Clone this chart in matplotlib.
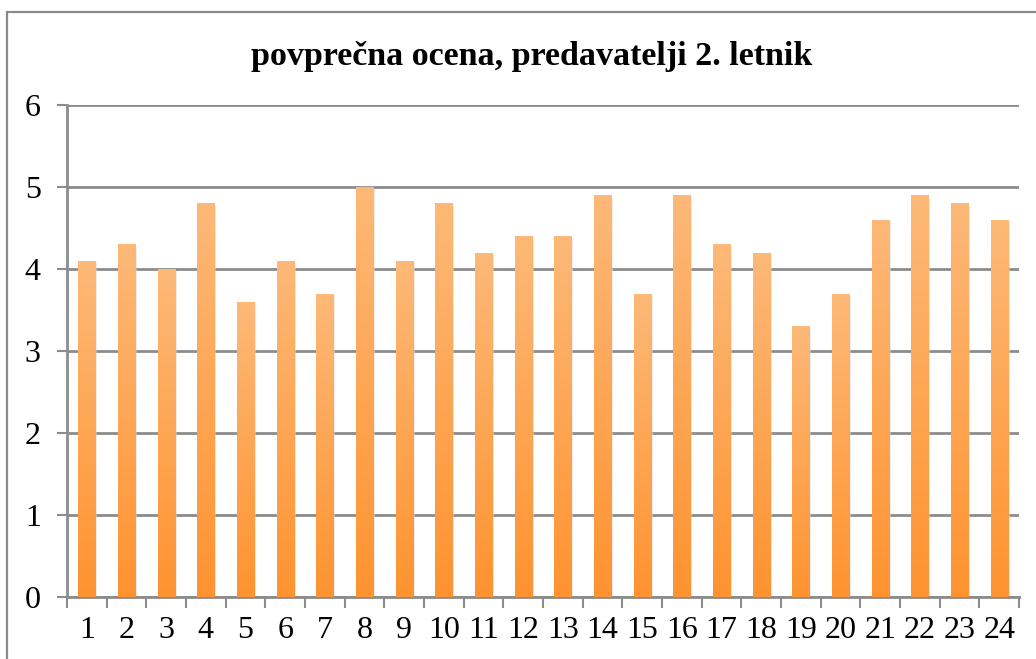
import matplotlib
matplotlib.use("Agg")
import matplotlib.pyplot as plt
import numpy as np
from matplotlib.colors import LinearSegmentedColormap
from matplotlib.patches import Rectangle

labels = [str(i) for i in range(1, 25)]
ocene = [4.1, 4.3, 4.0, 4.8, 3.6, 4.1, 3.7, 5.0, 4.1, 4.8, 4.2, 4.4,
         4.4, 4.9, 3.7, 4.9, 4.3, 4.2, 3.3, 3.7, 4.6, 4.9, 4.8, 4.6]
naslov = "povprečna ocena, predavatelji 2. letnik"

plt.rcParams['font.family'] = ['Liberation Serif', 'DejaVu Serif']

fig = plt.figure(figsize=(10.36, 6.59), dpi=100)
ax = fig.add_axes([0.0647, 0.0941, 0.9189, 0.7466])

# okvir grafa (desni in spodnji rob sta odrezana)
fig.patches.append(Rectangle((7/1036, -0.1), 1.2, 1 - 12/659 + 0.1,
                             transform=fig.transFigure, fill=False,
                             edgecolor='#8a8a8a', linewidth=1.6))

grad = LinearSegmentedColormap.from_list('oranzna', ['#ff9330', '#fdb978'])
x = np.arange(len(ocene))
w = 0.43
bars = ax.bar(x, ocene, width=w, color='none', edgecolor='none', zorder=3)
g = np.linspace(0, 1, 256).reshape(-1, 1)
for b, v in zip(bars, ocene):
    # rahla senca
    ax.add_patch(Rectangle((b.get_x() + 0.05, 0), w, v - 0.03,
                           facecolor='#d8d8d8', edgecolor='none', alpha=0.5, zorder=2))
    im = ax.imshow(g, cmap=grad, aspect='auto', origin='lower',
                   extent=[b.get_x(), b.get_x() + w, 0, v], zorder=3)
    im.set_clip_path(b)

ax.set_xlim(-0.5, len(ocene) - 0.5)
ax.set_ylim(0, 6)
ax.set_yticks(range(0, 7))
ax.yaxis.grid(True, color='#8c8c8c', linewidth=2)
ax.set_axisbelow(True)

ax.set_xticks(x)
ax.set_xticklabels(labels)
ax.set_xticks(np.arange(-0.5, len(ocene)), minor=True)
ax.tick_params(axis='x', which='major', length=0, pad=14, labelsize=23)
ax.tick_params(axis='x', which='minor', length=8, width=1.5, color='#8c8c8c', direction='out')
ax.tick_params(axis='y', length=7, width=1.5, color='#8c8c8c', labelsize=23, pad=12)

for s in ['top', 'right']:
    ax.spines[s].set_visible(False)
for s in ['left', 'bottom']:
    ax.spines[s].set_color('#8c8c8c')
    ax.spines[s].set_linewidth(2)

fig.text(0.513, 0.914, naslov, ha='center', va='center',
         fontsize=24.5, fontweight='bold')

fig.savefig('out.png', dpi=100)
